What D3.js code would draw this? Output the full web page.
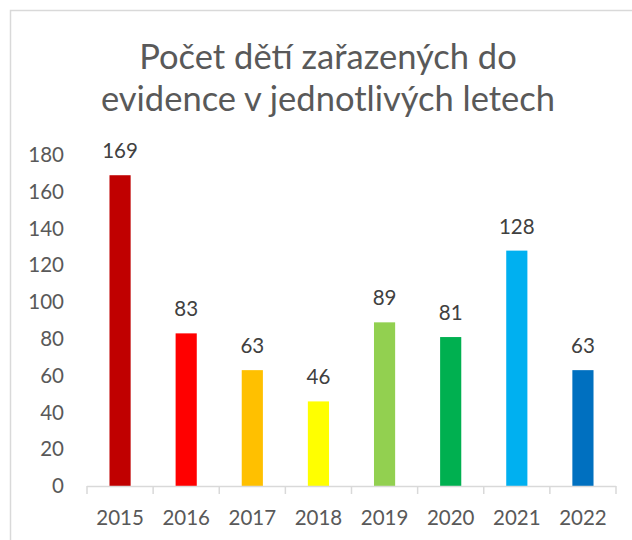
<!DOCTYPE html>
<html>
<head>
<meta charset="utf-8">
<script src="https://cdn.jsdelivr.net/npm/d3@7"></script>
<style>
  body { margin: 0; background: #fff; }
  text { font-family: Lato, "Open Sans", sans-serif; }
</style>
</head>
<body>
<div id="chart-area"></div>
<script>
// Data
const years = ['2015', '2016', '2017', '2018', '2019', '2020', '2021', '2022'];
const counts = [169, 83, 63, 46, 89, 81, 128, 63];
const barColors = ['#C00000', '#FF0000', '#FFC000', '#FFFF00', '#92D050', '#00B050', '#00B0F0', '#0070C0'];
const yTicks = [0, 20, 40, 60, 80, 100, 120, 140, 160, 180];
const titleLines = ['Počet dětí zařazených do', 'evidence v jednotlivých letech'];

const W = 632, H = 540;
const plot = { left: 87, right: 616, top: 155, bottom: 486 };
const labelSize = 20.5;

const svg = d3.select('#chart-area')
  .append('svg')
    .attr('width', W)
    .attr('height', H);

// chart frame (cut off at right and bottom like the reference)
svg.append('rect')
  .attr('x', 10.5).attr('y', 10.5)
  .attr('width', W + 20).attr('height', H + 20)
  .attr('fill', '#fff')
  .attr('stroke', '#d9d9d9')
  .attr('stroke-width', 1.5);

// title
svg.append('g')
  .selectAll('text')
  .data(titleLines)
  .enter()
  .append('text')
    .attr('x', 328)
    .attr('y', (d, i) => 69 + i * 42)
    .attr('text-anchor', 'middle')
    .attr('fill', '#595959')
    .attr('font-size', 34.5)
    .text(d => d);

const x = d3.scaleBand()
  .domain(years)
  .range([plot.left, plot.right])
  .paddingInner(0.68)
  .paddingOuter(0.34);

const xAxisBand = d3.scaleBand()
  .domain(years)
  .range([plot.left, plot.right]);

const y = d3.scaleLinear()
  .domain([0, 180])
  .range([plot.bottom, plot.top]);

// y axis labels only
const yAxis = d3.axisLeft(y)
  .tickValues(yTicks)
  .tickSize(0)
  .tickPadding(0);

const yAxisGroup = svg.append('g')
  .attr('transform', 'translate(64,0)')
  .call(yAxis);
yAxisGroup.select('.domain').remove();
yAxisGroup.selectAll('text')
  .attr('font-size', labelSize)
  .attr('fill', '#595959')
  .attr('font-family', 'Lato, sans-serif');

// bars
const data = years.map((yr, i) => ({ year: yr, value: counts[i], color: barColors[i] }));

svg.append('g')
  .selectAll('rect')
  .data(data)
  .enter()
  .append('rect')
    .attr('x', d => x(d.year))
    .attr('y', d => y(d.value))
    .attr('width', x.bandwidth())
    .attr('height', d => y(0) - y(d.value))
    .attr('fill', d => d.color);

// x axis with category boundary ticks
const xAxisGroup = svg.append('g')
  .attr('transform', 'translate(0,' + plot.bottom + ')');

xAxisGroup.append('line')
  .attr('x1', plot.left).attr('x2', plot.right)
  .attr('y1', 0.5).attr('y2', 0.5)
  .attr('stroke', '#d9d9d9')
  .attr('stroke-width', 1.5);

const bounds = years.map(yr => xAxisBand(yr)).concat([plot.right]);
xAxisGroup.selectAll('.tick-line')
  .data(bounds)
  .enter()
  .append('line')
    .attr('class', 'tick-line')
    .attr('x1', d => d).attr('x2', d => d)
    .attr('y1', 0).attr('y2', 8)
    .attr('stroke', '#d9d9d9')
    .attr('stroke-width', 1.5);

xAxisGroup.selectAll('.xlabel')
  .data(years)
  .enter()
  .append('text')
    .attr('class', 'xlabel')
    .attr('x', d => xAxisBand(d) + xAxisBand.bandwidth() / 2)
    .attr('y', 39)
    .attr('text-anchor', 'middle')
    .attr('font-size', labelSize)
    .attr('fill', '#595959')
    .text(d => d);

// value labels
svg.append('g')
  .selectAll('text')
  .data(data)
  .enter()
  .append('text')
    .attr('x', d => x(d.year) + x.bandwidth() / 2)
    .attr('y', d => y(d.value) - 17)
    .attr('text-anchor', 'middle')
    .attr('font-size', labelSize)
    .attr('fill', '#404040')
    .text(d => d.value);
</script>
</body>
</html>
